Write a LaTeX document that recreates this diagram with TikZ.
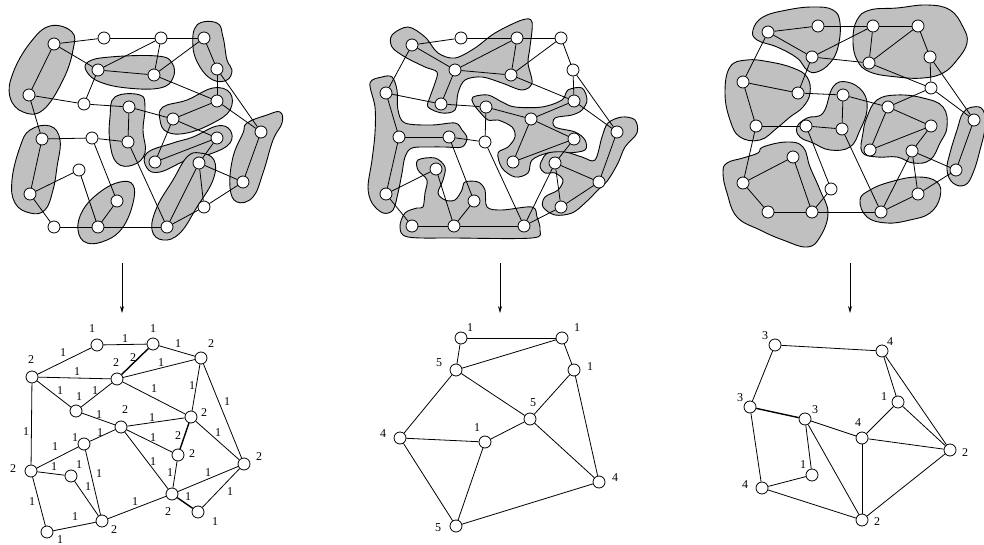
\documentclass[tikz,border=0pt]{standalone}
\usepackage{fontspec}
\setmainfont{Liberation Serif}
\usetikzlibrary{arrows.meta}
\definecolor{blobgray}{RGB}{192,192,192}
\begin{document}
\begin{tikzpicture}[x=1pt,y=-1pt,
  vtx/.style={circle,draw,fill=white,minimum size=12pt,inner sep=0pt,line width=0.8pt},
  blob/.style={draw,fill=blobgray,line width=0.9pt},
  edge/.style={line width=0.8pt},
  heavy/.style={line width=1.4pt},
  lbl/.style={inner sep=0pt,font=\fontsize{12}{12}\selectfont},
  arr/.style={line width=0.7pt,-{Stealth[length=7pt,width=4pt]}}]
\useasboundingbox (0,0) rectangle (984,545);

% ---------------- blobs, left graph ----------------
\draw[blob] plot[smooth cycle,tension=0.7] coordinates {(50,26) (72,32) (73,50) (63,80) (43,110) (23,112) (10,97) (13,73) (30,43)};
\draw[blob] plot[smooth cycle,tension=0.7] coordinates {(88,62) (110,57) (157,56) (172,63) (173,78) (160,88) (127,88) (100,82) (87,72)};
\draw[blob] plot[smooth cycle,tension=0.7] coordinates {(197,25) (217,23) (223,37) (227,60) (232,70) (227,80) (213,80) (200,67) (193,47)};
\draw[blob] plot[smooth cycle,tension=0.7] coordinates {(115,97) (140,95) (145,107) (143,130) (145,153) (133,165) (117,163) (110,143) (110,117)};
\draw[blob] plot[smooth cycle,tension=0.7] coordinates {(163,107) (187,100) (213,88) (230,93) (230,110) (213,123) (187,133) (167,132) (160,120)};
\draw[blob] plot[smooth cycle,tension=0.7] coordinates {(147,153) (173,143) (193,137) (217,126) (230,130) (230,143) (213,153) (187,160) (160,172) (147,168)};
\draw[blob] plot[smooth cycle,tension=0.7] coordinates {(187,157) (200,153) (214,160) (213,180) (197,207) (180,233) (163,240) (152,230) (157,207) (173,180)};
\draw[blob] plot[smooth cycle,tension=0.7] coordinates {(247,123) (267,115) (280,112) (282,123) (273,140) (263,173) (253,197) (237,202) (230,187) (233,157) (243,133)};
\draw[blob] plot[smooth cycle,tension=0.7] coordinates {(30,130) (50,126) (60,140) (57,167) (53,190) (45,210) (30,213) (15,203) (12,180) (20,147)};
\draw[blob] plot[smooth cycle,tension=0.7] coordinates {(100,192) (120,182) (133,185) (133,203) (123,227) (107,240) (87,243) (78,230) (83,210)};

% ---------------- blobs, middle graph ----------------
\draw[blob] plot[smooth cycle,tension=0.55] coordinates {(392,35) (408,27) (425,37) (438,53) (455,58) (475,48) (495,33) (522,20) (532,22) (530,47) (528,63) (532,83) (522,90) (502,83) (482,77) (465,80) (458,93) (455,110) (442,113) (428,107) (430,97) (435,83) (437,72) (425,67) (405,57) (392,47)};
\draw[blob] plot[smooth cycle,tension=0.55] coordinates {(473,97) (488,95) (502,102) (515,107) (542,107) (562,100) (568,90) (582,88) (587,100) (582,110) (572,115) (555,118) (555,127) (575,132) (585,140) (585,150) (568,153) (548,153) (532,160) (528,173) (515,177) (502,168) (498,153) (508,147) (515,137) (512,127) (498,120) (488,120) (478,110) (473,103)};
\draw[blob] plot[smooth cycle,tension=0.55] coordinates {(370,83) (382,77) (392,77) (397,90) (398,110) (405,123) (432,125) (455,123) (462,130) (467,138) (462,147) (445,147) (432,147) (412,148) (405,157) (402,173) (398,193) (393,210) (383,213) (372,203) (368,187) (372,160) (375,133) (375,107)};
\draw[blob] plot[smooth cycle,tension=0.55] coordinates {(418,160) (435,158) (445,167) (443,180) (438,193) (445,200) (455,200) (462,190) (465,182) (478,182) (485,190) (487,207) (502,210) (532,207) (537,217) (540,230) (532,238) (455,238) (408,237) (400,227) (405,213) (417,208) (423,207) (425,193) (427,180) (418,170)};
\draw[blob] plot[smooth cycle,tension=0.55] coordinates {(542,160) (548,153) (565,152) (582,157) (595,160) (602,137) (608,123) (622,117) (635,120) (637,133) (625,147) (618,163) (608,180) (598,190) (585,203) (572,213) (555,215) (543,207) (545,197) (558,190) (563,180) (555,173) (545,173) (540,167)};

% ---------------- blobs, right graph ----------------
\draw[blob] plot[smooth cycle,tension=0.7] coordinates {(753,30) (763,17) (787,10) (813,7) (833,10) (840,23) (838,47) (830,63) (817,72) (807,70) (797,58) (777,47) (757,40)};
\draw[blob] plot[smooth cycle,tension=0.7] coordinates {(857,20) (870,10) (897,8) (927,5) (950,10) (963,27) (967,43) (957,60) (943,73) (923,78) (897,77) (870,72) (857,60) (853,40)};
\draw[blob] plot[smooth cycle,tension=0.7] coordinates {(730,67) (747,60) (770,62) (793,68) (807,77) (810,93) (803,107) (790,117) (777,128) (760,140) (740,137) (730,120) (725,93)};
\draw[blob] plot[smooth cycle,tension=0.7] coordinates {(797,127) (807,118) (823,113) (833,87) (847,82) (863,92) (867,110) (860,130) (850,147) (830,150) (813,143) (800,137)};
\draw[blob] plot[smooth cycle,tension=0.7] coordinates {(867,117) (877,100) (897,95) (923,98) (943,107) (947,127) (940,143) (930,160) (913,163) (897,157) (877,157) (862,152) (863,133)};
\draw[blob] plot[smooth cycle,tension=0.7] coordinates {(963,113) (973,107) (983,110) (985,127) (980,150) (973,173) (965,185) (953,183) (947,170) (950,153) (957,130)};
\draw[blob] plot[smooth cycle,tension=0.7] coordinates {(727,163) (743,158) (758,153) (763,147) (787,142) (803,147) (810,167) (820,190) (828,213) (820,237) (807,247) (783,240) (760,230) (737,217) (727,193) (723,173)};
\draw[blob] plot[smooth cycle,tension=0.7] coordinates {(860,200) (870,190) (890,182) (917,177) (937,182) (940,197) (930,213) (910,220) (887,223) (867,217)};

% ---------------- top graph vertices ----------------
\foreach \n/\x/\y in {1/54/44,2/104/38,3/161/38,4/204/38,5/98/70,6/154/75,7/217/69,8/29/95,9/84/104,10/129/107,11/217/101,12/173/119,13/261/132,14/42/139,15/92/138,16/128/142,17/217/138,18/155/162,19/199/163,20/79/170,21/243/182,22/30/194,23/117/201,24/204/207,25/54/227,26/98/227,27/167/227}
  \node[vtx] (A\n) at (\x,\y) {};
\foreach \n/\x/\y in {1/412/45,2/461/38,3/517/38,4/561/38,5/455/70,6/511/75,7/573/70,8/386/93,9/441/104,10/486/107,11/574/101,12/531/119,13/617/132,14/399/137,15/449/137,16/485/142,17/574/139,18/513/162,19/555/163,20/436/169,21/599/182,22/386/194,23/474/201,24/561/207,25/412/226,26/454/226,27/524/226}
  \node[vtx] (M\n) at (\x,\y) {};
\foreach \n/\x/\y in {1/768/32,2/818/26,3/873/26,4/918/26,5/812/57,6/869/63,7/930/57,8/743/82,9/798/93,10/843/95,11/931/88,12/888/107,13/974/120,14/756/126,15/806/126,16/842/129,17/931/126,18/870/150,19/912/151,20/793/157,21/956/170,22/743/183,23/831/189,24/918/194,25/768/212,26/812/212,27/881/212}
  \node[vtx] (R\n) at (\x,\y) {};

\def\topedges{1/2,2/3,3/4,1/8,1/5,5/3,3/6,5/6,6/4,4/7,6/11,7/11,7/13,5/9,8/9,9/10,10/12,10/16,11/12,11/13,12/17,12/18,17/18,8/14,14/15,15/16,14/22,22/20,20/26,15/23,23/26,22/25,25/26,26/27,16/27,19/27,19/24,19/21,24/21,24/27,13/21,17/19}
\foreach \p in {A,M,R}{
  \foreach \u/\v in \topedges {\draw[edge] (\p\u) -- (\p\v);}
}

% ---------------- arrows ----------------
\coordinate (a1s) at (122,263); \coordinate (a1e) at (122,313);
\coordinate (a2s) at (500,263); \coordinate (a2e) at (500,313);
\coordinate (a3s) at (850,263); \coordinate (a3e) at (850,313);
\draw[arr] (a1s) -- (a1e);
\draw[arr] (a2s) -- (a2e);
\draw[arr] (a3s) -- (a3e);

% ---------------- bottom-left graph ----------------
\foreach \n/\x/\y/\lx/\ly/\t in {1/97/345/92/329/1,2/153/344/153/329/1,3/201/358/211/344/2,4/32/377/31/360/2,5/117/379/116/363/2,6/76/411/79/397/1,7/191/417/204/413/2,8/121/427/125/410/2,9/84/444/75/438/1,10/178/455/192/454/2,11/244/464/259/457/2,12/31/471/13/469/2,13/71/476/79/465/1,14/172/494/168/512/2,15/198/512/215/522/1,16/102/521/114/530/2,17/47/532/60/540/1}
  {\node[vtx] (B\n) at (\x,\y) {};
   \node[lbl] (lB\n) at (\lx,\ly) {\t};}
\foreach \u/\v/\x/\y/\t in {1/2/125/339/1,1/4/63/353/1,2/3/178/344/1,5/3/161/363/1,4/5/77/372/1,4/6/60/391/1,6/5/95/391/1,5/7/154/389/1,3/7/192/386/1,3/11/227/402/1,6/8/99/415/1,8/7/152/418/1,8/10/153/438/1,7/11/218/433/1,9/8/100/433/1,9/12/55/447/1,4/12/26/432/1,12/13/54/467/1,8/14/153/462/1,10/14/170/473/1,14/11/208/473/1,9/16/99/474/1,13/16/88/487/1,11/15/230/492/1,12/17/32/502/1,16/14/135/502/1,17/16/75/517/1}
  {\draw[edge] (B\u) -- (B\v);
   \node[lbl] (eB\u-\v) at (\x,\y) {\t};}
\foreach \u/\v/\x/\y/\t in {2/5/133/358/2,7/10/178/436/2,14/15/188/497/1}
  {\draw[heavy] (B\u) -- (B\v);
   \node[lbl] (eB\u-\v) at (\x,\y) {\t};}

% ---------------- bottom-middle graph ----------------
\foreach \n/\x/\y/\lx/\ly/\t in {1/461/338/470/328/1,2/562/338/577/328/1,3/456/370/439/363/5,4/574/370/590/367/1,5/530/419/533/403/5,6/400/438/383/434/4,7/485/442/477/428/1,8/599/482/615/478/4,9/456/526/438/528/5}
  {\node[vtx] (C\n) at (\x,\y) {};
   \node[lbl] (lC\n) at (\lx,\ly) {\t};}
\foreach \u/\v in {1/2,1/3,3/2,2/4,3/5,3/6,5/4,4/8,5/7,5/8,6/7,6/9,7/9,9/8}
  \draw[edge] (C\u) -- (C\v);

% ---------------- bottom-right graph ----------------
\foreach \n/\x/\y/\lx/\ly/\t in {1/775/345/765/336/3,2/882/351/890/342/4,3/898/402/884/397/1,4/750/407/740/398/3,5/805/419/815/410/3,6/862/438/858/423/4,7/950/450/965/453/2,8/812/475/803/465/1,9/762/488/745/485/4,10/862/520/877/522/2}
  {\node[vtx] (D\n) at (\x,\y) {};
   \node[lbl] (lD\n) at (\lx,\ly) {\t};}
\foreach \u/\v in {1/2,1/4,2/3,2/7,3/6,3/7,4/9,5/6,5/8,5/10,6/7,6/10,8/9,9/10,10/7}
  \draw[edge] (D\u) -- (D\v);
\draw[heavy] (D4) -- (D5);

\end{tikzpicture}
\end{document}
